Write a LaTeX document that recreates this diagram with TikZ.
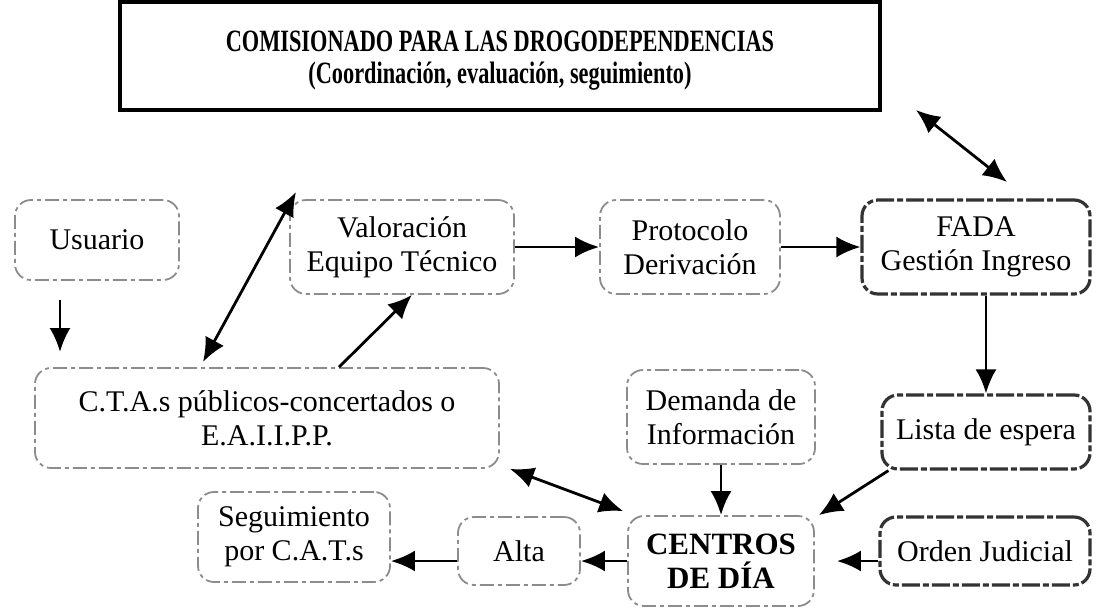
\documentclass[tikz,border=0pt]{standalone}
\usepackage{fontspec}
\setmainfont{Liberation Serif}
\newfontfamily\narrowfont[FakeStretch=0.72]{Liberation Serif}
\usepackage{tikz}
\usetikzlibrary{arrows.meta,positioning}
\tikzstyle{arrow}   = [line width=1.4pt,-{Latex[length=12pt,width=10.5pt]}]
\tikzstyle{twoway}  = [line width=1.4pt,{Latex[length=12pt,width=10.5pt]}-{Latex[length=12pt,width=10.5pt]}]
\tikzstyle{softbox} = [draw=black!45, line width=0.9pt, dash pattern=on 7pt off 2pt on 2pt off 2pt, rounded corners=8pt, align=center, inner sep=2pt]
\tikzstyle{firmbox} = [draw=black!80, line width=1.6pt, dash pattern=on 9pt off 1.5pt on 3pt off 1.5pt, rounded corners=8pt, align=center, inner sep=2pt]

\begin{document}
\begin{tikzpicture}[x=0.5pt,y=-0.5pt,font=\fontsize{15}{17}\selectfont]
        \useasboundingbox (0,0) rectangle (1098,611);
        % top box
        \node[draw, line width=2.2pt, minimum width=380pt, minimum height=54pt] (com) at (500,56) {};
        \node[align=center, font=\narrowfont\bfseries\fontsize{15.5}{16}\selectfont] (comtext) at (500,61)
            {COMISIONADO PARA LAS DROGODEPENDENCIAS\\(Coordinación, evaluación, seguimiento)};

        % first row
        \node[softbox, minimum width=82pt, minimum height=40pt] (usu) at (97,240) {Usuario};
        \node[softbox, minimum width=112pt, minimum height=47pt] (valor) at (402,247) {Valoración\\Equipo Técnico};
        \node[softbox, minimum width=90pt, minimum height=47pt] (proto) at (690,247) {Protocolo\\Derivación};
        \node[firmbox, minimum width=114pt, minimum height=47pt] (fada) at (976,247) {FADA\\Gestión Ingreso};

        % second row
        \node[softbox, minimum width=232pt, minimum height=50pt] (cta) at (267,418) {C.T.A.s públicos-concertados o\\E.A.I.I.P.P.};
        \node[softbox, minimum width=94pt, minimum height=47pt] (dem) at (721,417) {Demanda de\\Información};
        \node[firmbox, minimum width=104pt, minimum height=37pt] (lista) at (986,432) {Lista de espera};

        % third row
        \node[softbox, minimum width=96pt, minimum height=45pt] (seg) at (294,537) {Seguimiento\\por C.A.T.s};
        \node[softbox, minimum width=61pt, minimum height=34pt] (alta) at (519,551) {Alta};
        \node[softbox, minimum width=93pt, minimum height=45pt, font=\bfseries\fontsize{15.5}{17}\selectfont] (cen) at (721,561) {CENTROS\\DE DÍA};
        \node[firmbox, minimum width=105pt, minimum height=34pt] (orden) at (985,551) {Orden Judicial};

        % free ends
        \coordinate (usudown) at (60,300);
        \coordinate (ctaleft) at (60,352);
        \coordinate (ctaup) at (203,362);
        \coordinate (comleft) at (296,192);
        \coordinate (comright) at (916,110);
        \coordinate (fadaup) at (1007,182);

        \draw[arrow] (usudown) -- (ctaleft);
        \draw[twoway] (ctaup) -- (comleft);
        \draw[twoway] (comright) -- (fadaup);
        \draw[arrow] ([xshift=36pt]cta.north) -- ([xshift=5pt]valor.south);
        \draw[arrow] (valor.east) -- (proto.west);
        \draw[arrow] (proto.east) -- (fada.west);
        \draw[arrow] (lista.north |- fada.south) -- (lista.north);
        \draw[arrow] (dem.south) -- (cen.north);
        \draw[arrow] ([xshift=4pt]lista.south west) -- ([xshift=2pt]cen.north east);
        \draw[twoway] ([xshift=5pt]cta.south east) -- ([xshift=-2pt,yshift=2pt]cen.north west);
        \draw[arrow] (orden.west |- cen.east) -- ([xshift=11pt]cen.east);
        \draw[arrow] (cen.west) -- (cen.west -| alta.east);
        \draw[arrow] (alta.west |- cen.west) -- (cen.west -| seg.east);
    \end{tikzpicture}
\end{document}
